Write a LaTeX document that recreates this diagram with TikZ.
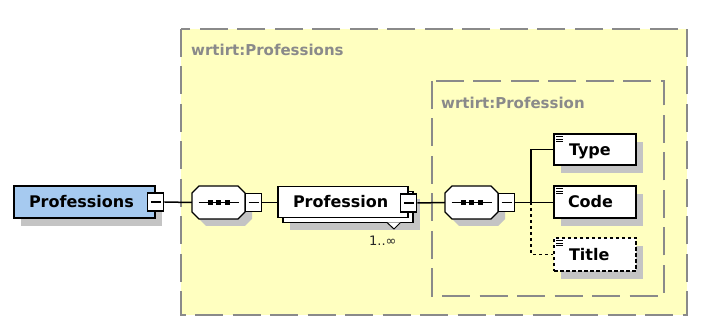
\documentclass[tikz,border=0pt]{standalone}
\usepackage{fontspec}
\setmainfont{DejaVu Sans}
\usetikzlibrary{shadows}
\definecolor{ybg}{HTML}{FFFFC0}
\definecolor{dgray}{HTML}{8A8A8A}
\definecolor{sgray}{HTML}{C4C4C4}
\definecolor{pblue}{HTML}{A6CAF0}
\newcommand\seqshape[3]{%
  \fill[sgray] ({#2+7},{#3+7}) +(-19.5,-16.5) -- +(19.5,-16.5) -- +(26.5,-9.5) -- +(26.5,9.5) -- +(19.5,16.5) -- +(-19.5,16.5) -- +(-26.5,9.5) -- +(-26.5,-9.5) -- cycle;
  \draw[line width=1.4pt,fill=white] (#2,#3) +(-19.5,-16.5) -- +(19.5,-16.5) -- +(26.5,-9.5) -- +(26.5,9.5) -- +(19.5,16.5) -- +(-19.5,16.5) -- +(-26.5,9.5) -- +(-26.5,-9.5) -- cycle;
  \node[minimum width=53pt,minimum height=33pt,inner sep=0pt] (#1) at (#2,#3) {};
  \draw[line width=1.4pt] (#2,#3) +(-20,0) -- +(20,0);
  \foreach \dx in {-8.5,0,8.5} \fill (#2,#3) +({\dx-2.5},-2.5) rectangle +({\dx+2.5},2.5);
}
\newcommand\elicon[1]{%
  \foreach \d in {3.5,6,8.5} \draw[line width=0.9pt] ([shift={(3pt,-\d pt)}]#1.north west) -- ++(6.5pt,0pt);
}
\begin{document}
\begin{tikzpicture}[x=1pt,y=-1pt,
  every node/.style={font=\bfseries\fontsize{16}{18}\selectfont},
  shad/.style={general shadow={fill=sgray,shadow xshift=7pt,shadow yshift=-8pt}},
  boxstyle/.style={draw=black,line width=1.5pt,fill=white,inner xsep=0pt,inner ysep=0pt,
     text width=#1,align=left,text height=11.7pt,text depth=0pt},
  minusbox/.style={draw=black,line width=1.2pt,fill=white,minimum width=16pt,minimum height=18pt,inner sep=0pt,
     path picture={\draw[line width=1.6pt] ([xshift=3pt]path picture bounding box.west) -- ([xshift=-3pt]path picture bounding box.east);}},
  grp/.style={draw=dgray,line width=1.5pt,dash pattern=on 28pt off 9.5pt,fill=ybg},
  grplabel/.style={font=\bfseries\fontsize{15}{18}\selectfont,text=dgray,inner sep=0pt,anchor=base west},
  conn/.style={line width=1.5pt,draw=black}
]
\useasboundingbox (0,0) rectangle (702,336);
% group boxes
\draw[grp] (181,29) rectangle (687,315);
\node[grplabel] (lbl1) at (191,56) {wrtirt:Professions};
\draw[grp] (432,81) rectangle (664,296);
\node[grplabel] (lbl2) at (441,109) {wrtirt:Profession};

% Professions root
\node[boxstyle=141pt,fill=pblue,shad,minimum height=32pt] (prs) at (84.5,202) {\hspace*{15pt}Professions};
\node[minusbox] (m1) at (prs.east) {};

% sequence 1
\seqshape{s1}{218.5}{202.5}
\node[minusbox] (m2) at (253.5,202.5) {};

% Profession (stacked)
\node[boxstyle=130pt,shad,minimum height=31pt] (pb) at (348,207) {};
\node[boxstyle=130pt,minimum height=31pt] (pf) at (343,202) {\hspace*{15pt}Profession};
\node[minusbox] (m3) at ([yshift=-1pt]pf.east) {};
\coordinate (cv1) at (387,222.5);
\coordinate (cv2) at (394,229);
\coordinate (cv3) at (400.5,222.5);
\draw[line width=1pt,fill=white] (cv1) -- (cv2) -- (cv3);
\node[font=\fontsize{13}{15}\selectfont,inner sep=0pt,anchor=base west,text=black!85] (card) at (369,246) {1..∞};

% sequence 2
\seqshape{s2}{471.5}{202.5}
\node[minusbox] (m4) at (506.5,202.5) {};

% elements
\node[boxstyle=82pt,shad,minimum height=31pt] (type) at (595,149.5) {\hspace*{15pt}Type};
\node[boxstyle=82pt,shad,minimum height=32pt] (code) at (595,202) {\hspace*{14pt}Code};
\node[boxstyle=82pt,shad,minimum height=33pt,dash pattern=on 3.5pt off 2.5pt] (title) at (595,254.5) {\hspace*{15pt}Title};
\elicon{type}\elicon{code}\elicon{title}

% connectors
\coordinate (br) at (531,202.5);
\draw[conn] (m1.east) -- (s1.west);
\draw[conn] (m2.east) -- (pf.west |- m2.east);
\draw[conn] (m3.east) -- (s2.west);
\draw[conn] (m4.east) -- (code.west |- m4.east);
\draw[conn] (br) |- (type.west);
\draw[conn,dash pattern=on 3pt off 3pt] (br) |- (title.west);
\end{tikzpicture}
\end{document}
